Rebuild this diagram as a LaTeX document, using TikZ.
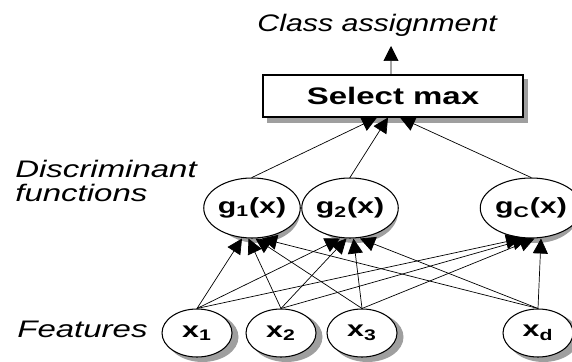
\documentclass[tikz,border=0pt]{standalone}
\usepackage{fontspec}
\setmainfont{Liberation Sans}
\newfontfamily\widefont[FakeStretch=1.38]{Liberation Sans}
\newfontfamily\classfont[FakeStretch=1.27]{Liberation Sans}
\usetikzlibrary{arrows.meta,shapes.geometric,backgrounds}

\tikzset{
    unit/.style={draw, ellipse, semithick, fill=white, inner sep=0pt},
    gunit/.style={unit, minimum width=1.66cm, minimum height=1.2cm,
        font=\widefont\fontsize{12.5}{14}\selectfont\bfseries},
    xunit/.style={unit, minimum width=1.4cm, minimum height=0.96cm,
        font=\widefont\fontsize{12.5}{14}\selectfont\bfseries},
    selbox/.style={draw, semithick, fill=white, minimum width=5.2cm, minimum height=0.84cm,
        font=\widefont\fontsize{13.6}{16}\selectfont\bfseries},
    caption/.style={inner sep=0pt, anchor=base west, align=left,
        font=\widefont\fontsize{13.6}{14.2}\selectfont\itshape},
    link/.style={thin, -{Triangle[length=0.3cm, width=0.3cm]}},
    shadowfill/.style={fill=gray!75}
}

\begin{document}
\begin{tikzpicture}
    \useasboundingbox (0, 0) rectangle (11.44, 7.22);

    % output
    \node[selbox] (sel) at (7.86, 5.30) {Select max};
    \node[caption, font=\classfont\fontsize{13.6}{16}\selectfont\itshape] (cls) at (5.14, 6.58) {Class assignment};
    \coordinate (top) at (7.82, 6.3);
    \draw[link] ([xshift=-0.04cm]sel.north) -- (top);

    % discriminant functions
    \node[caption] (dlbl) at (0.3, 3.18) {Discriminant\\functions};
    \node[gunit] (g1) at (5.04, 3.06) {g\textsubscript{1}(x)};
    \node[gunit] (g2) at (7.00, 3.06) {g\textsubscript{2}(x)};
    \node[gunit] (gc) at (10.62, 3.06) {g\textsubscript{C}(x)};

    % features
    \node[caption] (flbl) at (0.34, 0.48) {Features};
    \node[xunit] (x1) at (3.94, 0.56) {x\textsubscript{1}};
    \node[xunit] (x2) at (5.62, 0.56) {x\textsubscript{2}};
    \node[xunit] (x3) at (7.24, 0.56) {x\textsubscript{3}};
    \node[xunit] (xd) at (10.76, 0.56) {x\textsubscript{d}};

    % shadows
    \begin{scope}[on background layer]
        \fill[shadowfill] ([shift={(0.09,-0.1)}]sel.south west) rectangle ([shift={(0.09,-0.1)}]sel.north east);
        \foreach \n in {g1, g2, gc} {
            \fill[shadowfill] ([shift={(0.11,-0.08)}]\n.center) ellipse [x radius=0.85, y radius=0.62];
        }
        \foreach \n in {x1, x2, x3, xd} {
            \fill[shadowfill] ([shift={(0.11,-0.08)}]\n.center) ellipse [x radius=0.72, y radius=0.5];
        }
    \end{scope}

    \foreach \s/\dx in {x1/-0.2, x2/-0.07, x3/0.07, xd/0.2} {
        \foreach \t in {g1, g2, gc} {
            \draw[link] (\s.north) -- ([xshift=\dx cm]\t.south);
        }
    }

    \draw[link] (g1.north) -- ([xshift=-0.32cm]sel.south);
    \draw[link] (g2.north) -- ([xshift=-0.1cm]sel.south);
    \draw[link] (gc.north) -- ([xshift=0.14cm]sel.south);
\end{tikzpicture}
\end{document}
